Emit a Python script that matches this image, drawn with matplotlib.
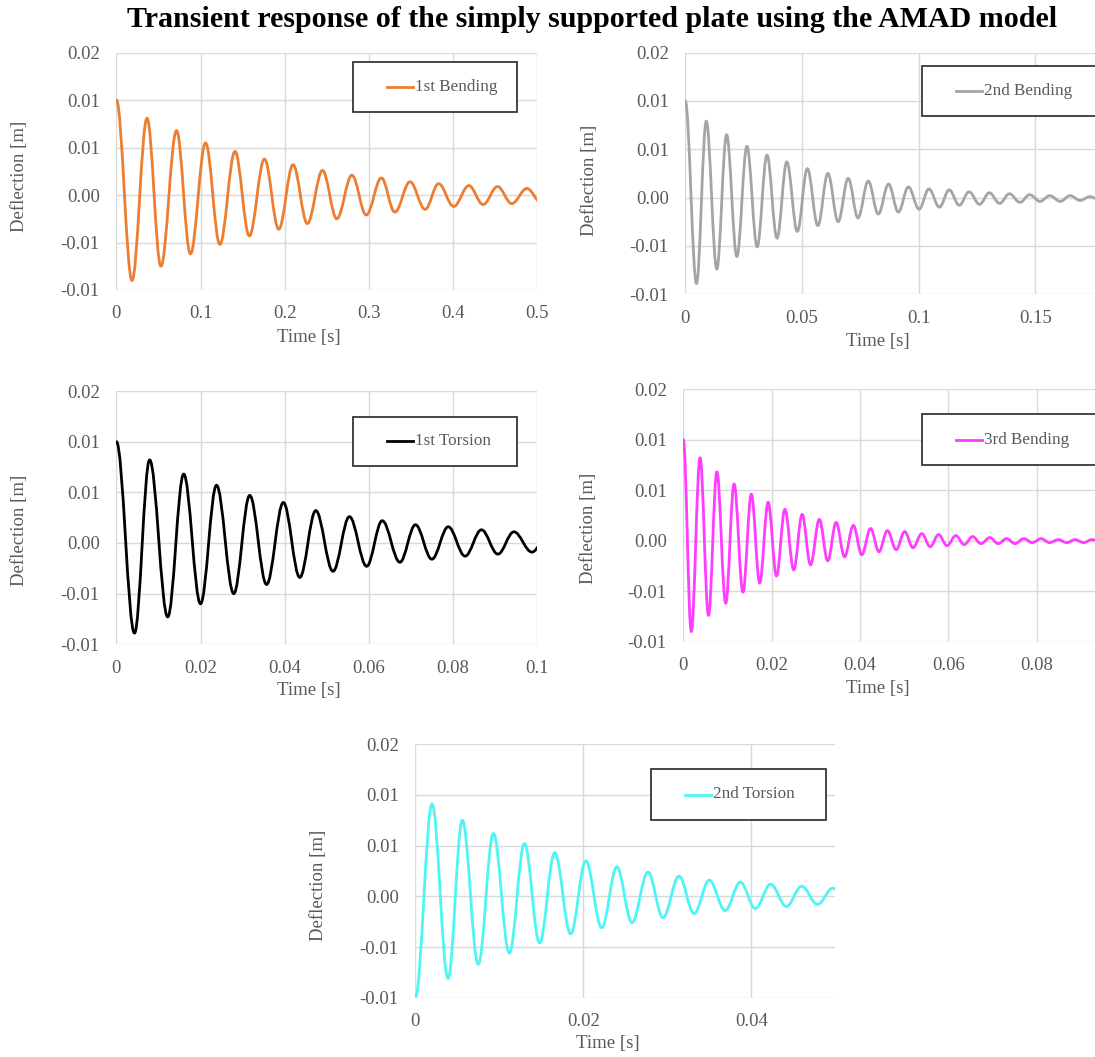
import numpy as np
import matplotlib.pyplot as plt
from matplotlib.path import Path
from matplotlib.patches import PathPatch, Rectangle
from matplotlib.lines import Line2D

plt.rcParams['font.family'] = ['Liberation Serif', 'DejaVu Serif']

# turning points (time [s], deflection [m]) of each free-decay response
bend1_t = [0.0, 0.0186, 0.0364, 0.0529, 0.0715, 0.088, 0.106, 0.123, 0.141, 0.158,
           0.176, 0.193, 0.210, 0.227, 0.245, 0.262, 0.280, 0.297, 0.315, 0.331,
           0.349, 0.367, 0.383, 0.401, 0.419, 0.436, 0.453, 0.470, 0.488, 0.505]
bend1_d = [0.0100, -0.0090, 0.0081, -0.0075, 0.0068, -0.0062, 0.0055, -0.0052, 0.0046, -0.0043,
           0.0038, -0.0036, 0.0032, -0.0030, 0.0026, -0.0025, 0.0021, -0.0021, 0.0018, -0.0018,
           0.0014, -0.0015, 0.0012, -0.0012, 0.0010, -0.0010, 0.0009, -0.0009, 0.0007, -0.0008]

bend2_t = [0.0, 0.0048, 0.0090, 0.0135, 0.0177, 0.0221, 0.0264, 0.0308, 0.0350, 0.0393,
           0.0435, 0.0480, 0.0523, 0.0568, 0.0611, 0.0655, 0.0698, 0.0740, 0.0784, 0.0827,
           0.0871, 0.0913, 0.0956, 0.1002, 0.1044, 0.1089, 0.1131, 0.1174, 0.1216, 0.1261,
           0.1303, 0.1347, 0.1389, 0.1434, 0.1476, 0.1520, 0.1562, 0.1607, 0.1649, 0.1692,
           0.1734, 0.1779, 0.1821]
bend2_d = [0.0100, -0.0089, 0.0079, -0.0074, 0.0065, -0.0061, 0.0053, -0.0051, 0.0044, -0.0042,
           0.0037, -0.0035, 0.0030, -0.0029, 0.0025, -0.0025, 0.0020, -0.0021, 0.0017, -0.0017,
           0.0014, -0.0015, 0.0011, -0.0012, 0.0009, -0.0010, 0.0008, -0.0008, 0.0006, -0.0007,
           0.0005, -0.0006, 0.0004, -0.0005, 0.0003, -0.0004, 0.0002, -0.0004, 0.0002, -0.0003,
           0.0001, -0.0003, 0.0001]

tors1_t = [0.0, 0.0043, 0.0079, 0.0122, 0.0160, 0.0200, 0.0238, 0.0279, 0.0317, 0.0357,
           0.0397, 0.0436, 0.0474, 0.0515, 0.0554, 0.0595, 0.0632, 0.0674, 0.0711, 0.0750,
           0.0789, 0.0829, 0.0868, 0.0907, 0.0945, 0.0988, 0.1027]
tors1_d = [0.0100, -0.0089, 0.0082, -0.0073, 0.0068, -0.0060, 0.0057, -0.0050, 0.0047, -0.0041,
           0.0040, -0.0034, 0.0032, -0.0028, 0.0026, -0.0023, 0.0022, -0.0019, 0.0018, -0.0016,
           0.0016, -0.0013, 0.0013, -0.0011, 0.0011, -0.0009, 0.0009]

bend3_t = [0.0, 0.0018, 0.0038, 0.0057, 0.0076, 0.0096, 0.0115, 0.0135, 0.0154, 0.0173,
           0.0192, 0.0211, 0.0230, 0.0250, 0.0269, 0.0288, 0.0308, 0.0327, 0.0346, 0.0365,
           0.0385, 0.0404, 0.0424, 0.0443, 0.0462, 0.0482, 0.0501, 0.0520, 0.0540, 0.0559,
           0.0578, 0.0597, 0.0617, 0.0636, 0.0655, 0.0674, 0.0694, 0.0713, 0.0732, 0.0751,
           0.0771, 0.0790, 0.0810, 0.0829, 0.0849, 0.0868, 0.0887, 0.0906, 0.0925, 0.0945,
           0.0964, 0.0984, 0.1003]
bend3_d = [0.0100, -0.0090, 0.0082, -0.0074, 0.0068, -0.0062, 0.0056, -0.0051, 0.0046, -0.0042,
           0.0038, -0.0035, 0.0031, -0.0029, 0.0026, -0.0024, 0.0021, -0.0020, 0.0018, -0.0016,
           0.0015, -0.0014, 0.0012, -0.0011, 0.0010, -0.0009, 0.0009, -0.0007, 0.0007, -0.0006,
           0.0006, -0.0005, 0.0005, -0.0004, 0.0004, -0.0003, 0.0003, -0.0003, 0.0002, -0.0003,
           0.0002, -0.0002, 0.0002, -0.0002, 0.0001, -0.0002, 0.0001, -0.0002, 0.0001, -0.0001,
           0.0001, -0.0001, 0.0001]

tors2_t = [0.0, 0.0020, 0.0039, 0.0056, 0.0075, 0.0093, 0.0112, 0.0130, 0.0148, 0.0166,
           0.0185, 0.0203, 0.0222, 0.0240, 0.0258, 0.0277, 0.0295, 0.0314, 0.0332, 0.0350,
           0.0369, 0.0387, 0.0405, 0.0423, 0.0442, 0.0460, 0.0479, 0.0497, 0.0516]
tors2_d = [-0.0100, 0.0091, -0.0081, 0.0075, -0.0067, 0.0062, -0.0056, 0.0052, -0.0046, 0.0043,
           -0.0037, 0.0035, -0.0031, 0.0029, -0.0026, 0.0024, -0.0021, 0.0020, -0.0017, 0.0016,
           -0.0014, 0.0014, -0.0012, 0.0012, -0.0010, 0.0010, -0.0008, 0.0008, -0.0007]

# y axis: -0.01 .. 0.015 in 0.005 steps, labels rounded to 2 decimals
y_ticks = [-0.01, -0.005, 0.0, 0.005, 0.01, 0.015]
y_labels = ['-0.01', '-0.01', '0.00', '0.01', '0.01', '0.02']

W, H = 1095, 1057
fig = plt.figure(figsize=(W / 100, H / 100), dpi=100)

GRID = '#D9D9D9'
TXT = '#595959'


def fbox(l, t, r, b):
    return [l / W, 1 - b / H, (r - l) / W, (b - t) / H]


def smooth_path(t, d, k=0.3642):
    # cubic segments with flat tangents at every peak and trough
    verts = [(t[0], d[0])]
    codes = [Path.MOVETO]
    for i in range(len(t) - 1):
        dt = t[i + 1] - t[i]
        verts += [(t[i] + k * dt, d[i]), (t[i + 1] - k * dt, d[i + 1]), (t[i + 1], d[i + 1])]
        codes += [Path.CURVE4] * 3
    return Path(verts, codes)


# the right-hand charts run past the page edge, so their last tick labels are left blank
panels = [
    dict(name='1st Bending', t=bend1_t, d=bend1_d, color='#ED7D31',
         ax=(116.4, 52.7, 537.0, 290.0), xmax=0.5,
         xticks=[0, 0.1, 0.2, 0.3, 0.4, 0.5], xlabels=['0', '0.1', '0.2', '0.3', '0.4', '0.5'],
         box=(352.7, 62.3, 516.7, 112.3), ylab=(19.8, 176.7), xlab=(309.0, 337.7)),
    dict(name='2nd Bending', t=bend2_t, d=bend2_d, color='#A5A5A5',
         ax=(685.3, 52.5, 1152.0, 294.3), xmax=0.2,
         xticks=[0, 0.05, 0.1, 0.15, 0.2], xlabels=['0', '0.05', '0.1', '0.15', ''],
         box=(921.7, 66.0, 1120.0, 116.0), ylab=(589.9, 180.0), xlab=(878.0, 341.7)),
    dict(name='1st Torsion', t=tors1_t, d=tors1_d, color='#000000',
         ax=(116.4, 391.0, 537.0, 644.3), xmax=0.1,
         xticks=[0, 0.02, 0.04, 0.06, 0.08, 0.1], xlabels=['0', '0.02', '0.04', '0.06', '0.08', '0.1'],
         box=(352.7, 416.7, 516.7, 466.0), ylab=(19.8, 530.0), xlab=(309.0, 690.0)),
    dict(name='3rd Bending', t=bend3_t, d=bend3_d, color='#FF3CFF',
         ax=(683.3, 389.0, 1125.0, 641.7), xmax=0.1,
         xticks=[0, 0.02, 0.04, 0.06, 0.08, 0.1], xlabels=['0', '0.02', '0.04', '0.06', '0.08', ''],
         box=(921.7, 414.0, 1120.0, 465.0), ylab=(588.8, 528.0), xlab=(878.0, 688.3)),
    dict(name='2nd Torsion', t=tors2_t, d=tors2_d, color='#4DF5F5',
         ax=(415.3, 744.3, 835.2, 997.7), xmax=0.05,
         xticks=[0, 0.02, 0.04], xlabels=['0', '0.02', '0.04'],
         box=(651.4, 769.0, 826.0, 820.0), ylab=(318.9, 885.0), xlab=(608.2, 1043.3)),
]

for p in panels:
    l, t, r, b = p['ax']
    ax = fig.add_axes(fbox(l, t, r, b))
    ax.set_xlim(0, p['xmax'])
    ax.set_ylim(-0.01, 0.015)
    ax.set_xticks(p['xticks'])
    ax.set_xticklabels(p['xlabels'])
    ax.set_yticks(y_ticks)
    ax.set_yticklabels(y_labels)
    ax.grid(True, color=GRID, lw=1.0)
    ax.set_axisbelow(True)
    for s in ax.spines.values():
        s.set_visible(False)
    ax.tick_params(length=0, labelsize=13.5, labelcolor=TXT)
    ax.tick_params(axis='y', pad=12)
    ax.tick_params(axis='x', pad=11)

    ax.add_patch(PathPatch(smooth_path(p['t'], p['d']), fill=False,
                           edgecolor=p['color'], lw=2.0, capstyle='round', joinstyle='round'))

    # axis titles placed in pixel terms, converted to axes fractions
    yx, yy = p['ylab']
    ax.set_ylabel('Deflection [m]', fontsize=13.5, color=TXT, va='center', ha='center')
    ax.yaxis.set_label_coords((yx - l) / (r - l), (b - yy) / (b - t))
    xx, xy = p['xlab']
    ax.set_xlabel('Time [s]', fontsize=13.5, color=TXT, va='center', ha='center')
    ax.xaxis.set_label_coords((xx - l) / (r - l), (b - xy) / (b - t))

    # framed legend with a short line sample
    bl, bt, br, bb = p['box']
    fig.add_artist(Rectangle((bl / W, 1 - bb / H), (br - bl) / W, (bb - bt) / H,
                             transform=fig.transFigure, facecolor='white',
                             edgecolor='#262626', lw=1.2))
    yc = 1 - (bt + bb) / 2 / H
    x0 = bl + 34
    fig.add_artist(Line2D([x0 / W, (x0 + 26) / W], [yc, yc], transform=fig.transFigure,
                          color=p['color'], lw=2.0))
    fig.text((x0 + 28) / W, yc, p['name'], fontsize=12.3, color=TXT, va='center', ha='left')

fig.text(592 / W, 1 - 27 / H, 'Transient response of the simply supported plate using the AMAD model',
         fontsize=21.6, fontweight='bold', ha='center', va='baseline', color='black')

fig.savefig('out.png', dpi=100)
